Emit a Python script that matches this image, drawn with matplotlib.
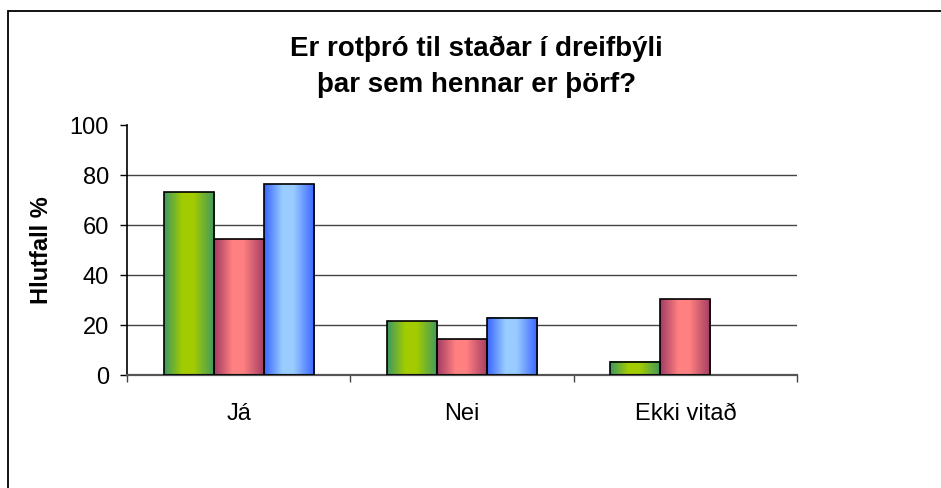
import matplotlib
matplotlib.use("Agg")
import matplotlib.pyplot as plt
import numpy as np
from matplotlib.colors import LinearSegmentedColormap, to_rgb
from matplotlib.patches import Rectangle

plt.rcParams["font.family"] = ["Liberation Sans", "DejaVu Sans"]

categories = ["Já", "Nei", "Ekki vitað"]
series_a = [73.2, 21.6, 5.3]
series_b = [54.4, 14.4, 30.4]
series_c = [76.4, 23.0, 0.0]

title_lines = ["Er rotþró til staðar í dreifbýli", "þar sem hennar er þörf?"]
ylabel = "Hlutfall %"

# edge colour, centre colour for each series
shades = [("#3f9960", "#a3cc00"),
          ("#a33c64", "#ff8080"),
          ("#3a66ff", "#99ccff")]


def gradient_image(edge, centre):
    cmap = LinearSegmentedColormap.from_list(
        "g", [(0, to_rgb(edge)), (0.36, to_rgb(centre)),
              (0.58, to_rgb(centre)), (1, to_rgb(edge))])
    return cmap(np.linspace(0, 1, 64))[None, :, :]


fig = plt.figure(figsize=(9.41, 4.88), dpi=100)
ax = fig.add_axes([127/941, 1-375/488, 670/941, 250/488])

# outer chart frame
fig.patches.append(Rectangle((8/941, -0.1), 1.2, 1.1 - 11/488,
                             transform=fig.transFigure, fill=False,
                             edgecolor="black", linewidth=1.3))

x = np.arange(len(categories))
w = 0.224
for i, vals in enumerate([series_a, series_b, series_c]):
    bars = ax.bar(x + (i - 1) * w, vals, w, color="none",
                  edgecolor="black", linewidth=1.2, zorder=3)
    img = gradient_image(*shades[i])
    for b in bars:
        h = b.get_height()
        if h <= 0:
            b.set_linewidth(0)
            continue
        ax.imshow(img, extent=[b.get_x(), b.get_x() + b.get_width(), 0, h],
                  aspect="auto", zorder=2.5, interpolation="bilinear")

ax.set_xlim(-0.5, 2.5)
ax.set_ylim(0, 100)
ax.set_yticks([0, 20, 40, 60, 80, 100])
ax.tick_params(axis="y", labelsize=17, length=5, width=1, pad=8, direction="out")

ax.set_xticks([-0.5, 0.5, 1.5, 2.5])
ax.set_xticklabels([])
ax.set_xticks(x, minor=True)
ax.set_xticklabels(categories, minor=True)
ax.tick_params(axis="x", which="major", length=5, width=1, color="#444444")
ax.tick_params(axis="x", which="minor", length=0, labelsize=17, pad=20)

ax.yaxis.grid(True, color="#444444", linewidth=1)
ax.get_ygridlines()[-1].set_visible(False)
ax.set_axisbelow(True)

for s in ["top", "right"]:
    ax.spines[s].set_visible(False)
ax.spines["left"].set_linewidth(1.2)
ax.spines["bottom"].set_linewidth(1.6)
ax.spines["bottom"].set_color("#555555")

ax.set_ylabel(ylabel, fontsize=17, fontweight="bold")
ax.yaxis.set_label_coords(-0.110, 0.5)

fig.text(0.506, 1 - 56/488, title_lines[0], ha="center", va="baseline",
         fontsize=20, fontweight="bold")
fig.text(0.506, 1 - 92/488, title_lines[1], ha="center", va="baseline",
         fontsize=20, fontweight="bold")

fig.savefig("out.png", dpi=100)
